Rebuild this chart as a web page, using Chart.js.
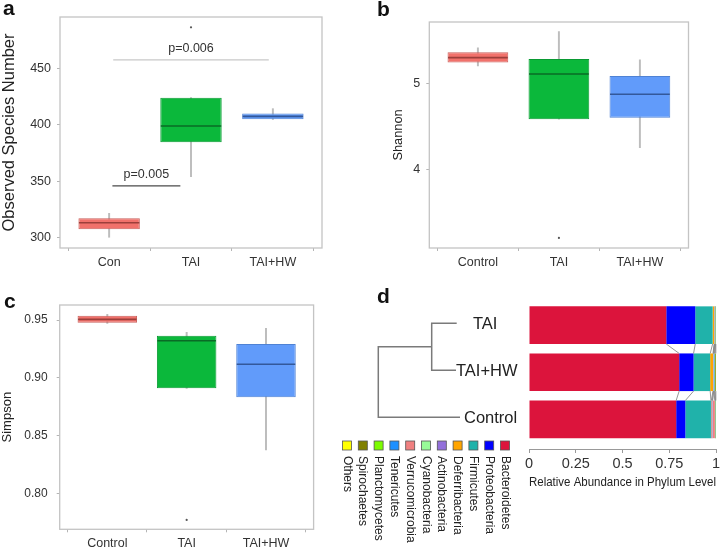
<!DOCTYPE html>
<html><head><meta charset="utf-8">
<script src="https://cdn.jsdelivr.net/npm/chart.js@4.4.1/dist/chart.umd.min.js"></script>
<style>
html,body{margin:0;padding:0;background:#fff;width:724px;height:548px;overflow:hidden;}
canvas{position:absolute;}
</style></head><body>
<canvas id="ca" width="360" height="270" style="left:0;top:0"></canvas>
<canvas id="cb" width="364" height="270" style="left:360px;top:0"></canvas>
<canvas id="cc" width="360" height="278" style="left:0;top:270px"></canvas>
<canvas id="cd" width="384" height="278" style="left:340px;top:270px"></canvas>
<script>
// ---------------- DATA ----------------
const groupsA = ['Con', 'TAI', 'TAI+HW'];
const groupsBC = ['Control', 'TAI', 'TAI+HW'];

// Panel a: Observed Species Number  (whisker low, Q1, median, Q3, whisker high)
const obsMin = [300.4, 354, 404.6];
const obsQ1  = [307.4, 384.4, 404.8];
const obsMed = [313.3, 398.8, 407.4];
const obsQ3  = [317.2, 423.9, 410.0];
const obsMax = [321.6, 423.9, 414.2];
const obsOutliers = [[], [486.2], []];
const obsTicks = [300, 350, 400, 450];
const pLabels = ['p=0.005', 'p=0.006'];
const pFrom = [1.04, 1.05];
const pTo = [1.87, 2.95];
const pLineVal = [345.8, 457.3];

// Panel b: Shannon
const shaMin = [5.21, 4.59, 4.26];
const shaQ1  = [5.248, 4.59, 4.608];
const shaMed = [5.306, 5.116, 4.88];
const shaQ3  = [5.369, 5.29, 5.093];
const shaMax = [5.42, 5.61, 5.28];
const shaOutliers = [[], [3.21], []];
const shaTicks = [4, 5];

// Panel c: Simpson
const simMin = [0.9470, 0.8909, 0.8375];
const simQ1  = [0.9477, 0.8909, 0.8831];
const simMed = [0.9506, 0.9321, 0.9117];
const simQ3  = [0.9537, 0.9364, 0.9292];
const simMax = [0.9550, 0.9394, 0.9428];
const simOutliers = [[], [0.777], []];
const simTicks = [0.80, 0.85, 0.90, 0.95];

// Panel d: relative abundance at phylum level
const samples = ['TAI', 'TAI+HW', 'Control'];
const phyla = ['Bacteroidetes','Proteobacteria','Firmicutes','Deferribacteria','Actinobacteria','Cyanobacteria','Verrucomicrobia','Tenericutes','Planctomycetes','Spirochaetes','Others'];
const bacteroidetes   = [0.734, 0.803, 0.787];
const proteobacteria  = [0.155, 0.077, 0.049];
const firmicutes      = [0.093, 0.089, 0.137];
const deferribacteria = [0.008, 0.015, 0.002];
const actinobacteria  = [0.002, 0.002, 0.006];
const cyanobacteria   = [0.001, 0.001, 0.001];
const verrucomicrobia = [0.001, 0.001, 0.012];
const tenericutes     = [0.002, 0.004, 0.002];
const planctomycetes  = [0.001, 0.003, 0.001];
const spirochaetes    = [0.002, 0.004, 0.002];
const others          = [0.001, 0.001, 0.001];
const abundanceTicks = [0, 0.25, 0.5, 0.75, 1];
const abundanceTickLabels = ['0', '0.25', '0.5', '0.75', '1'];

// ---------------- STYLE ----------------
const FONT = "'Liberation Sans', Arial, Helvetica, sans-serif";
Chart.defaults.font.family = FONT;
Chart.defaults.color = '#333';
Chart.defaults.animation = false;
const boxFill = ['#F1716B', '#0BB83B', '#619BFA'];
const boxLine = ['#c9615c', '#0a9a33', '#4f82d4'];
const medLine = ['#9c3f3b', '#0a6b26', '#33589a'];
const phylaColors = ['#DC143C','#0000FF','#20B2AA','#FFA500','#9370DB','#98FB98','#F08080','#1E90FF','#7CFC00','#808000','#FFFF00'];

function letterPlugin(letter, x, y) {
  return { id: 'letter' + letter, afterDraw(chart) {
    const c = chart.ctx; c.save();
    c.font = 'bold 21px ' + FONT; c.fillStyle = '#111'; c.textBaseline = 'alphabetic'; c.textAlign = 'left';
    c.fillText(letter, x, y); c.restore();
  }};
}

function makeBox(id, labels, mn, q1, md, q3, mx, outl, yMin, yMax, yTicks, fmt, title, L, extraPlugins) {
  const pts = [];
  outl.forEach((arr, i) => arr.forEach(v => pts.push({x: i + 1, y: v})));
  const framePlugin = { id: 'frame', afterDatasetsDraw(chart) {
    const a = chart.chartArea, c = chart.ctx; c.save();
    c.strokeStyle = '#c4c4c4'; c.lineWidth = 1.3;
    c.strokeRect(a.left, a.top, a.right - a.left, a.bottom - a.top);
    // medians
    const meta = chart.getDatasetMeta(1), ys = chart.scales.y;
    meta.data.forEach((el, i) => {
      const p = el.getProps(['x', 'width'], true);
      const y = ys.getPixelForValue(md[i]);
      c.strokeStyle = medLine[i]; c.lineWidth = 1.6;
      c.beginPath(); c.moveTo(p.x - p.width / 2 + 0.5, y); c.lineTo(p.x + p.width / 2 - 0.5, y); c.stroke();
    });
    c.restore();
  }};
  return new Chart(document.getElementById(id), {
    type: 'bar',
    data: { datasets: [
      { type: 'bar', data: labels.map((_, i) => ({x: i + 1, y: [mn[i], mx[i]]})), backgroundColor: '#bdbdbd', barThickness: 1.3, grouped: false, order: 3 },
      { type: 'bar', data: labels.map((_, i) => ({x: i + 1, y: [q1[i], q3[i]]})), backgroundColor: boxFill, borderColor: boxLine, borderWidth: 1, borderSkipped: false, grouped: false, barPercentage: 0.75, categoryPercentage: 1, order: 2 },
      { type: 'scatter', data: pts, pointRadius: 1.1, backgroundColor: '#555', borderWidth: 0, order: 1 }
    ]},
    options: {
      responsive: false, animation: false,
      layout: { padding: { left: 0, top: L.top, right: L.right, bottom: 0 } },
      plugins: { legend: { display: false }, tooltip: { enabled: false } },
      scales: {
        x: { type: 'linear', min: 0.4, max: 3.6, offset: false,
             afterBuildTicks: s => { s.ticks = labels.map((_, i) => ({value: i + 1})); },
             afterFit: s => { s.height = L.xh; },
             ticks: { callback: v => labels[Math.round(v) - 1], font: { size: L.tickSize }, color: '#333', padding: 4, maxRotation: 0, autoSkip: false },
             grid: { display: true, drawOnChartArea: false, drawTicks: true, tickLength: 3, color: '#b5b5b5' },
             border: { display: false } },
        y: { type: 'linear', min: yMin, max: yMax,
             afterBuildTicks: s => { s.ticks = yTicks.map(v => ({value: v})); },
             afterFit: s => { s.width = L.yw; },
             ticks: { callback: v => fmt(v), font: { size: L.yTickSize }, color: '#333', padding: L.yPad },
             grid: { display: true, drawOnChartArea: false, drawTicks: true, tickLength: 3, color: '#b5b5b5' },
             border: { display: false },
             title: { display: true, text: title, font: { size: L.titleSize }, color: '#222', padding: { top: L.titlePad, bottom: 0 } } }
      }
    },
    plugins: [framePlugin].concat(extraPlugins || [])
  });
}

// p-value annotations for panel a
const pPlugin = { id: 'pvals', afterDatasetsDraw(chart) {
  const xs = chart.scales.x, ys = chart.scales.y, c = chart.ctx; c.save();
  const cols = ['#4a4a4a', '#c8c8c8'];
  pLabels.forEach((t, i) => {
    const y = ys.getPixelForValue(pLineVal[i]);
    c.strokeStyle = cols[i]; c.lineWidth = 1.3;
    c.beginPath(); c.moveTo(xs.getPixelForValue(pFrom[i]), y); c.lineTo(xs.getPixelForValue(pTo[i]), y); c.stroke();
    c.fillStyle = '#333'; c.font = '12.5px ' + FONT; c.textAlign = 'center'; c.textBaseline = 'alphabetic';
    c.fillText(t, xs.getPixelForValue((pFrom[i] + pTo[i]) / 2), y - 8);
  });
  c.restore();
}};

makeBox('ca', groupsA, obsMin, obsQ1, obsMed, obsQ3, obsMax, obsOutliers, 290.9, 495.3, obsTicks, v => String(v),
  'Observed Species Number', { top: 17, right: 38, xh: 22, yw: 60, tickSize: 12.5, yTickSize: 12.5, yPad: 6, titleSize: 16.5, titlePad: 0 },
  [pPlugin, letterPlugin('a', 3, 15)]);
makeBox('cb', groupsBC, shaMin, shaQ1, shaMed, shaQ3, shaMax, shaOutliers, 3.093, 5.72, shaTicks, v => String(v),
  'Shannon', { top: 22, right: 35.5, xh: 22, yw: 69.3, tickSize: 12.5, yTickSize: 12.5, yPad: 6, titleSize: 12.8, titlePad: 30.5 },
  [letterPlugin('b', 17, 16)]);
makeBox('cc', groupsBC, simMin, simQ1, simMed, simQ3, simMax, simOutliers, 0.7689, 0.963, simTicks, v => v.toFixed(2),
  'Simpson', { top: 35, right: 46.4, xh: 18.7, yw: 59.7, tickSize: 12.5, yTickSize: 12, yPad: 9, titleSize: 13, titlePad: 0 },
  [letterPlugin('c', 4, 38)]);

// ---------------- Panel d ----------------
const phylaValues = [bacteroidetes, proteobacteria, firmicutes, deferribacteria, actinobacteria, cyanobacteria, verrucomicrobia, tenericutes, planctomycetes, spirochaetes, others];

const dPlugin = { id: 'dextra',
  afterDatasetsDraw(chart) {
    const c = chart.ctx, xs = chart.scales.x, ys = chart.scales.y; c.save();
    // alluvial links between adjacent bars
    c.strokeStyle = '#8a8a8a'; c.lineWidth = 0.9;
    const cum = samples.map((_, r) => { let s = 0; return phylaValues.map(v => (s += v[r])); });
    for (let r = 0; r < samples.length - 1; r++) {
      const e0 = chart.getDatasetMeta(0).data[r].getProps(['y', 'height'], true);
      const e1 = chart.getDatasetMeta(0).data[r + 1].getProps(['y', 'height'], true);
      const yA = e0.y + e0.height / 2, yB = e1.y - e1.height / 2;
      for (let k = 0; k < phyla.length - 1; k++) {
        c.beginPath(); c.moveTo(xs.getPixelForValue(cum[r][k]), yA); c.lineTo(xs.getPixelForValue(cum[r + 1][k]), yB); c.stroke();
      }
    }
    // dendrogram
    const yy = samples.map((_, i) => ys.getPixelForValue(i) - 2);
    const leafEnd = [116.7, 116, 120];
    const rootX = 38.3, nodeX = 91.7;
    c.strokeStyle = '#7a7a7a'; c.lineWidth = 1.5;
    const mid = (yy[0] + yy[1]) / 2;
    c.beginPath();
    c.moveTo(leafEnd[0], yy[0]); c.lineTo(nodeX, yy[0]); c.lineTo(nodeX, yy[1]); c.lineTo(leafEnd[1], yy[1]);
    c.moveTo(nodeX, mid); c.lineTo(rootX, mid); c.lineTo(rootX, yy[2]); c.lineTo(leafEnd[2], yy[2]);
    c.stroke();
    c.fillStyle = '#222'; c.font = '16.5px ' + FONT; c.textBaseline = 'middle';
    c.textAlign = 'left';
    c.fillText(samples[0], 133, yy[0] + 1.5);
    c.fillText(samples[1], 116, yy[1] + 1.5);
    c.fillText(samples[2], 124, yy[2] + 1);
    // legend (rotated labels)
    phyla.forEach((p, k) => {
      const cx = 165 - k * 15.8;
      c.fillStyle = phylaColors[k]; c.fillRect(cx - 4.5, 171, 9, 9);
      c.strokeStyle = '#555'; c.lineWidth = 0.8; c.strokeRect(cx - 4.5, 171, 9, 9);
      c.save(); c.translate(cx, 186); c.rotate(Math.PI / 2);
      c.fillStyle = '#222'; c.font = '12px ' + FONT; c.textAlign = 'left'; c.textBaseline = 'middle';
      c.fillText(p, 0, 0); c.restore();
    });
    c.restore();
  }
};

new Chart(document.getElementById('cd'), {
  type: 'bar',
  data: { datasets: phyla.map((p, k) => ({
    label: p,
    data: samples.map((_, i) => ({ y: i, x: phylaValues[k][i] })),
    backgroundColor: phylaColors[k], borderWidth: 0,
    barPercentage: 0.8, categoryPercentage: 1
  })) },
  options: {
    indexAxis: 'y', responsive: false, animation: false,
    layout: { padding: { left: 189, top: 34, right: 8, bottom: 55 } },
    plugins: { legend: { display: false }, tooltip: { enabled: false } },
    scales: {
      y: { type: 'linear', display: false, stacked: true, reverse: true, min: -0.45, max: 2.63, offset: false,
           afterBuildTicks: s => { s.ticks = samples.map((_, i) => ({value: i})); } },
      x: { type: 'linear', stacked: true, min: 0, max: 1,
           afterBuildTicks: s => { s.ticks = abundanceTicks.map(v => ({value: v})); },
           afterFit: s => { s.height = 44; },
           ticks: { callback: (v, i) => abundanceTickLabels[i], font: { size: 14.5 }, color: '#333', padding: 2, maxRotation: 0, autoSkip: false },
           grid: { display: true, drawOnChartArea: false, drawTicks: true, tickLength: 4, color: '#999' },
           border: { display: true, color: '#999', width: 1 },
           title: { display: true, text: 'Relative Abundance in Phylum Level', font: { size: 12.5 }, color: '#222', padding: { top: 0, bottom: 2.5 } } }
    }
  },
  plugins: [dPlugin, letterPlugin('d', 37, 33)]
});
</script>
</body></html>
